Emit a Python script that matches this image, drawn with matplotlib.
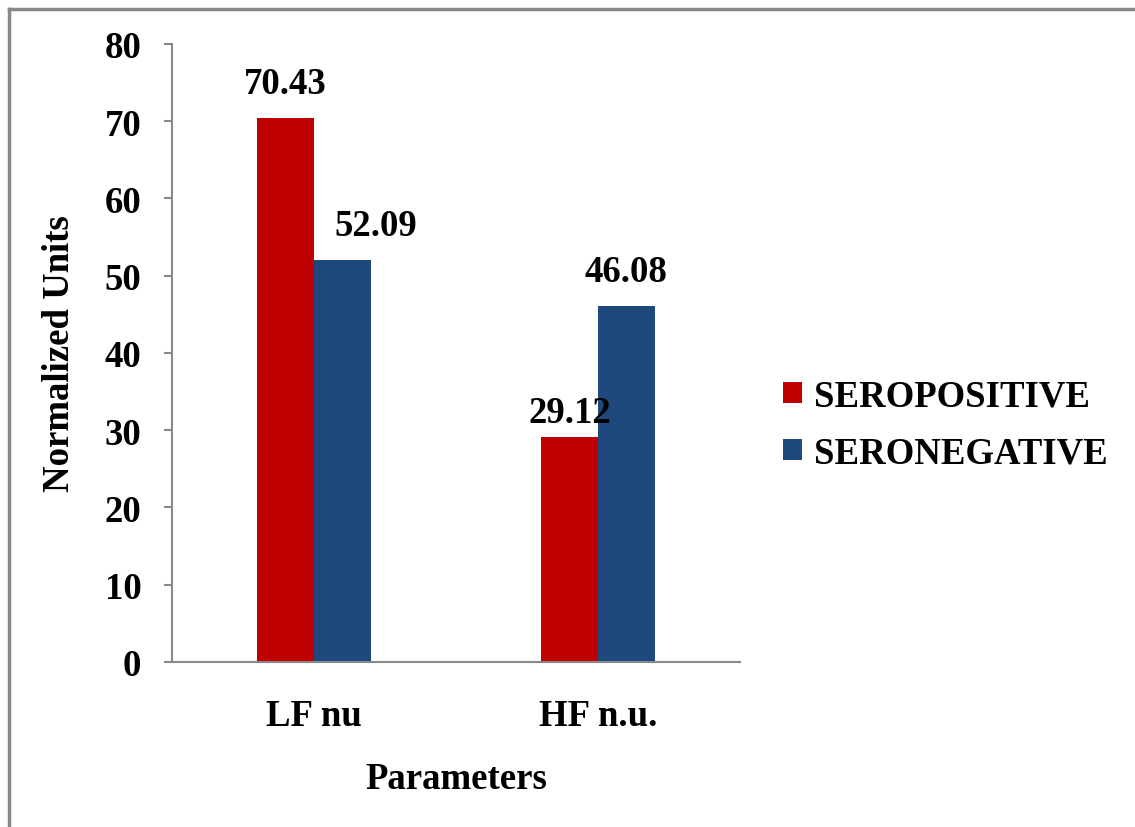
import matplotlib
matplotlib.use("Agg")
import numpy as np
import matplotlib.pyplot as plt
from matplotlib.lines import Line2D

categories = ["LF nu", "HF n.u."]
seropositive = [70.43, 29.12]
seronegative = [52.09, 46.08]
series_names = ["SEROPOSITIVE", "SERONEGATIVE"]
yticks = [0, 10, 20, 30, 40, 50, 60, 70, 80]

# label nudges in points, (dx, dy) per series per category, as placed in the original
label_offsets = [[(0, 12), (0, 5)], [(24, 12), (0, 12)]]

plt.rcParams['font.family'] = ['Liberation Serif', 'DejaVu Serif']
plt.rcParams['font.weight'] = 'bold'

fig = plt.figure(figsize=(11.35, 8.28), dpi=100)
ax = fig.add_axes([0.1515, 0.1993, 0.5005, 0.7464])

# outer frame (only left and top visible in the original)
fig.add_artist(Line2D([0.0075, 0.0075], [0, 0.988], transform=fig.transFigure, color='#888888', lw=2.5))
fig.add_artist(Line2D([0.0075, 1.0], [0.988, 0.988], transform=fig.transFigure, color='#888888', lw=2.5))

x = np.arange(len(categories))
w = 0.2
b1 = ax.bar(x - w / 2, seropositive, w, color='#C00000', label=series_names[0])
b2 = ax.bar(x + w / 2, seronegative, w, color='#1F497D', label=series_names[1])

for bars, offs in zip((b1, b2), label_offsets):
    for rect, off in zip(bars, offs):
        h = rect.get_height()
        ax.annotate(f"{h:.2f}", (rect.get_x() + rect.get_width() / 2, h),
                    xytext=off, textcoords='offset points',
                    ha='center', va='bottom', fontsize=26.5, fontweight='bold')

ax.set_xlim(-0.5, 1.5)
ax.set_ylim(0, 80)
ax.set_yticks(yticks)
ax.set_xticks(x)
ax.set_xticklabels(categories)
ax.tick_params(axis='y', length=6, width=1.5, color='#888888', pad=16, labelsize=26.5)
ax.tick_params(axis='x', length=0, pad=26, labelsize=26.5)
for s in ['top', 'right']:
    ax.spines[s].set_visible(False)
for s in ['left', 'bottom']:
    ax.spines[s].set_color('#888888')
    ax.spines[s].set_linewidth(1.5)

ax.set_ylabel("Normalized Units", fontsize=26.5, fontweight='bold', labelpad=20)
ax.set_xlabel("Parameters", fontsize=26.5, fontweight='bold', labelpad=20)

fig.legend(loc='center left', bbox_to_anchor=(0.677, 0.486), frameon=False,
           fontsize=26.5, handlelength=0.5, handleheight=0.5, handletextpad=0.35,
           labelspacing=0.58, borderaxespad=0)

fig.savefig("out.png", dpi=100, facecolor='white')
